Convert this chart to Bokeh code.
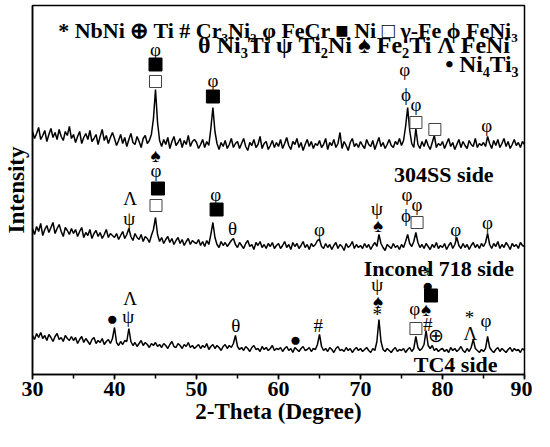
import numpy as np
from bokeh.plotting import figure
from bokeh.models import ColumnDataSource, Label, SingleIntervalTicker, FixedTicker
from bokeh.embed import file_html
from bokeh.resources import INLINE
from bokeh.core.properties import value

# ---------------- data (2-theta grid 30..90 step 0.25) ----------------
theta_start = 30.0
theta_step = 0.25

ss304_side = [
    243, 236, 241, 247, 235, 239, 244, 233, 240, 246, 237, 242, 235, 245, 238, 234, 243, 239, 248, 236,
    240, 232, 238, 243, 231, 237, 241, 235, 244, 233, 236, 240, 230, 238, 245, 234, 239, 231, 237, 242,
    236, 229, 234, 240, 231, 237, 228, 235, 241, 232, 230, 238, 233, 227, 236, 239, 231, 234, 240, 256,
    285, 252, 234, 228, 235, 230, 237, 226, 233, 238, 229, 232, 236, 227, 234, 230, 239, 228, 233, 235,
    232, 226, 230, 235, 227, 233, 229, 246, 267, 243, 231, 225, 232, 228, 234, 226, 230, 236, 227, 231,
    233, 226, 231, 236, 228, 224, 232, 229, 235, 227, 230, 238, 226, 231, 233, 225, 229, 234, 227, 232,
    228, 235, 226, 231, 237, 229, 225, 233, 230, 236, 227, 232, 224, 230, 235, 228, 233, 226, 231, 229,
    234, 227, 230, 236, 225, 232, 229, 235, 227, 231, 242, 226, 233, 229, 224, 232, 236, 228, 231, 227,
    233, 229, 226, 235, 230, 228, 234, 225, 231, 237, 228, 232, 226, 230, 235, 229, 227, 233, 230, 236,
    229, 234, 248, 267, 244, 231, 227, 246, 230, 226, 233, 228, 235, 229, 225, 232, 239, 227, 231, 229,
    233, 226, 231, 236, 228, 232, 225, 230, 235, 227, 233, 229, 226, 234, 230, 228, 236, 227, 231, 229,
    232, 228, 238, 231, 226, 234, 229, 235, 227, 231, 236, 228, 233, 226, 230, 235, 229, 232, 227, 233,
    230]

inconel718_side = [
    146, 140, 148, 143, 151, 139, 145, 149, 142, 147, 152, 141, 146, 150, 143, 138, 147, 144, 140, 146,
    141, 145, 138, 143, 147, 137, 142, 139, 145, 136, 141, 144, 138, 142, 136, 140, 145, 137, 141, 139,
    137, 141, 135, 139, 143, 136, 140, 146, 138, 134, 141, 137, 135, 140, 133, 138, 136, 132, 139, 145,
    157, 140, 133, 137, 131, 135, 138, 132, 136, 130, 134, 137, 131, 135, 129, 133, 136, 130, 134, 132,
    131, 135, 129, 133, 128, 134, 130, 140, 152, 137, 130, 127, 133, 129, 132, 128, 131, 134, 136, 130,
    127, 132, 129, 126, 131, 134, 128, 130, 125, 132, 129, 133, 127, 130, 126, 131, 128, 132, 126, 129,
    131, 126, 129, 133, 127, 130, 125, 132, 128, 131, 126, 129, 133, 127, 130, 125, 131, 128, 130, 134,
    135, 128, 126, 131, 127, 130, 125, 129, 132, 126, 130, 128, 124, 131, 127, 129, 133, 126, 130, 127,
    129, 126, 131, 127, 130, 125, 129, 132, 128, 140, 131, 127, 124, 130, 128, 126, 131, 127, 129, 125,
    130, 127, 133, 140, 131, 128, 133, 142, 132, 127, 130, 126, 131, 128, 125, 130, 127, 132, 126, 129,
    127, 131, 125, 129, 132, 126, 130, 137, 129, 126, 131, 127, 130, 125, 129, 132, 127, 130, 126, 131,
    128, 132, 141, 130, 126, 131, 128, 133, 126, 130, 127, 132, 129, 125, 131, 128, 130, 126, 132, 129,
    128]

tc4_side = [
    39, 35, 41, 37, 42, 36, 39, 34, 40, 37, 33, 38, 41, 35, 37, 33, 39, 36, 34, 38,
    34, 37, 31, 35, 38, 32, 36, 33, 30, 35, 37, 31, 34, 32, 36, 30, 33, 35, 31, 36,
    47, 32, 29, 33, 30, 34, 33, 46, 33, 29, 32, 28, 31, 34, 29, 32, 30, 27, 31, 29,
    32, 28, 30, 27, 31, 29, 26, 30, 33, 28, 27, 31, 29, 26, 30, 28, 32, 27, 29, 26,
    28, 30, 26, 29, 27, 31, 25, 28, 30, 26, 29, 27, 24, 28, 30, 26, 29, 27, 31, 39,
    28, 25, 27, 24, 28, 26, 23, 27, 29, 25, 26, 23, 28, 25, 27, 24, 26, 29, 24, 26,
    25, 27, 23, 26, 28, 24, 26, 22, 27, 25, 23, 26, 28, 24, 25, 27, 23, 26, 25, 30,
    40, 28, 24, 26, 23, 27, 25, 22, 26, 28, 24, 25, 23, 27, 24, 26, 22, 25, 27, 24,
    26, 23, 25, 27, 24, 22, 26, 24, 33, 55, 33, 25, 23, 26, 24, 22, 25, 27, 23, 25,
    24, 26, 22, 25, 27, 23, 26, 38, 27, 24, 26, 30, 44, 29, 26, 29, 24, 26, 23, 25,
    26, 23, 25, 22, 27, 24, 26, 23, 25, 28, 24, 22, 26, 23, 27, 35, 26, 24, 22, 25,
    23, 26, 38, 27, 24, 22, 25, 27, 23, 26, 24, 22, 25, 27, 23, 26, 24, 25, 22, 26,
    24]

# phase-marker annotations: (2theta, intensity, symbol)
ann_theta = [45.0, 45.0, 52.0, 75.4, 75.55, 76.76, 85.4,
             45.06, 41.9, 41.8, 52.35, 54.4, 65.0, 72.0, 72.15, 75.67, 76.9, 75.55, 81.6, 85.5,
             39.72, 41.9, 41.66, 54.8, 62.07, 64.86, 72.03, 72.15, 72.03, 78.2, 78.2, 76.6, 78.0, 78.2, 79.2, 83.3, 83.4, 85.3]
ann_int = [325, 219, 294, 305, 280, 270, 249,
           204, 176, 156, 180, 146, 145, 166, 149, 180, 170, 159, 145, 152,
           56, 76, 58, 49, 35, 49, 90, 73, 60, 100, 89, 66, 65, 50, 39, 57, 41, 54]
ann_sym = ["φ", "♠", "φ", "φ", "ϕ", "φ", "φ",
           "φ", "Λ", "ψ", "φ", "θ", "φ", "ψ", "♠", "φ", "φ", "ϕ", "φ", "φ",
           "●", "Λ", "ψ", "θ", "●", "#", "ψ", "♠", "*", "*", "●", "φ", "♠", "#", "⊕", "*", "Λ", "φ"]

ni_sq_theta = [45.0, 52.0, 45.3, 52.45, 78.6]
ni_sq_int = [310, 278, 186, 165, 79]
gfe_sq_theta = [45.0, 76.76, 79.07, 45.06, 76.9, 76.76]
gfe_sq_int = [293, 252, 245, 169, 152, 46]

legend_lines = ["* NbNi ⊕ Ti # Cr₃Ni₂ φ FeCr ■ Ni □  γ-Fe ϕ FeNi₃",
                "θ  Ni₃Ti ψ  Ti₂Ni ♠ Fe₂Ti Λ FeNi",
                "•  Ni₄Ti₃"]
trace_names = ["304SS side", "Inconel 718 side", "TC4 side"]

FONT = "Liberation Serif"

def grid(n):
    return [theta_start + theta_step * i for i in range(n)]

p = figure(width=532, height=431, x_range=(30, 90), y_range=(0, 369),
           output_backend="svg", toolbar_location=None,
           min_border_left=30, min_border_top=5, min_border_right=8, min_border_bottom=57)
p.background_fill_color = "white"
p.border_fill_color = "white"
p.xgrid.visible = False
p.ygrid.visible = False
p.outline_line_color = "black"
p.outline_line_width = 1.5
p.outline_line_alpha = 1.0

for ys in (ss304_side, inconel718_side, tc4_side):
    p.line(grid(len(ys)), ys, line_color="black", line_width=1.5)

# x axis
xa = p.xaxis[0]
xa.ticker = SingleIntervalTicker(interval=10, num_minor_ticks=2)
xa.axis_line_width = 1.5
xa.major_tick_line_width = 1.5
xa.minor_tick_line_width = 1.5
xa.major_tick_in = 0
xa.major_tick_out = 5
xa.minor_tick_in = 0
xa.minor_tick_out = 4
xa.major_label_text_font = FONT
xa.major_label_text_font_style = "bold"
xa.major_label_text_font_size = "22px"
xa.major_label_text_color = "black"
xa.major_label_standoff = 2
xa.axis_label = "2-Theta (Degree)"
xa.axis_label_text_font = FONT
xa.axis_label_text_font_style = "bold"
xa.axis_label_text_font_size = "23px"
xa.axis_label_text_color = "black"
xa.axis_label_standoff = 0

# y axis: line only, with its title
ya = p.yaxis[0]
ya.ticker = FixedTicker(ticks=[])
ya.axis_line_width = 1.5
ya.major_tick_in = 0
ya.major_tick_out = 0
ya.minor_tick_in = 0
ya.minor_tick_out = 0
ya.major_label_standoff = 0
ya.major_label_text_font_size = "0px"
ya.axis_label = "Intensity"
ya.axis_label_text_font = FONT
ya.axis_label_text_font_style = "bold"
ya.axis_label_text_font_size = "23px"
ya.axis_label_text_color = "black"
ya.axis_label_standoff = 4

# phase markers
src = ColumnDataSource(dict(x=ann_theta, y=ann_int, t=ann_sym))
p.text(x="x", y="y", text="t", source=src, text_font=value(FONT),
       text_font_size="19px", text_align="center", text_baseline="middle", text_color="black")
p.scatter(ni_sq_theta, ni_sq_int, marker="square", size=13, fill_color="black", line_color="black")
p.scatter(gfe_sq_theta, gfe_sq_int, marker="square", size=12, fill_color="white",
          line_color="#444444", line_width=1)

# trace names
p.text(x=[80.16, 79.55], y=[200, 106], text=trace_names[:2], text_font=value(FONT),
       text_font_style=value("bold"), text_font_size="22px", text_align="center",
       text_baseline="alphabetic", text_color="black")
p.add_layout(Label(x=81.6, y=10, text=trace_names[2], text_font=FONT, text_font_style="bold",
                   text_font_size="22px", text_align="center", text_baseline="middle",
                   text_color="black"))

# legend lines (alphabetic baseline, right aligned)
for lx, ly, fs, line in zip([89.95, 89.7, 90.0], [344, 330, 311],
                            ["22px", "24px", "23.5px"], legend_lines):
    p.text(x=[lx], y=[ly], text=[line], text_font=value(FONT), text_font_style=value("bold"),
           text_font_size=fs, text_align="right", text_baseline="alphabetic", text_color="black")

open("out.html", "w").write(file_html(p, INLINE))
